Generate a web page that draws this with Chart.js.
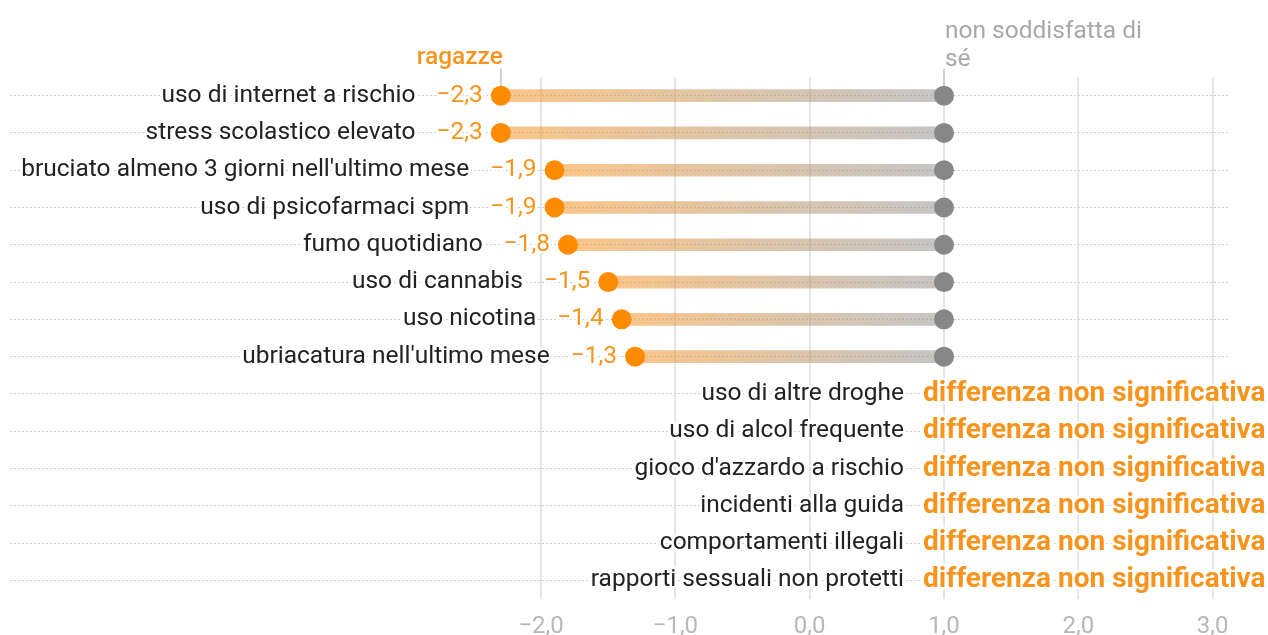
<!DOCTYPE html>
<html lang="it">
<head>
<meta charset="utf-8">
<title>Comportamenti a rischio: ragazze vs non soddisfatta di sé</title>
<script src="https://cdn.jsdelivr.net/npm/chart.js@4/dist/chart.umd.min.js"></script>
<style>
  html, body { margin: 0; padding: 0; background: #ffffff; overflow: hidden; }
  canvas { display: block; }
</style>
</head>
<body>
<canvas id="chart" width="1268" height="635"></canvas>
<script>
// Rows, top to bottom
const categories = [
  'uso di internet a rischio',
  'stress scolastico elevato',
  "bruciato almeno 3 giorni nell'ultimo mese",
  'uso di psicofarmaci spm',
  'fumo quotidiano',
  'uso di cannabis',
  'uso nicotina',
  "ubriacatura nell'ultimo mese",
  'uso di altre droghe',
  'uso di alcol frequente',
  "gioco d'azzardo a rischio",
  'incidenti alla guida',
  'comportamenti illegali',
  'rapporti sessuali non protetti'
];

// Girls' value per row (null = difference not significant)
const girlsValues = [-2.3, -2.3, -1.9, -1.9, -1.8, -1.5, -1.4, -1.3, null, null, null, null, null, null];

// Reference group value per row
const referenceValues = [1.0, 1.0, 1.0, 1.0, 1.0, 1.0, 1.0, 1.0, null, null, null, null, null, null];
const referenceLevel = 1.0;

// X axis tick values
const xTickValues = [-2, -1, 0, 1, 2, 3];

const seriesNames = ['ragazze', 'non soddisfatta di sé'];
const notSignificantText = 'differenza non significativa';

const ORANGE = '#ff8c00';
const ORANGE_TEXT = '#f7941d';
const GREY_POINT = '#878787';
const FONT = 'Roboto, "Noto Sans", sans-serif';
const LABEL_SIZE = 24.5;

function fmt(v) {
  return v.toFixed(1).replace('.', ',').replace('-', '\u2212');
}

// Connector bars fade from orange (girls) to grey (reference)
function connectorColor(ctx) {
  const chart = ctx.chart;
  const i = ctx.dataIndex;
  if (!chart.chartArea || girlsValues[i] == null) return 'rgba(0,0,0,0)';
  const xs = chart.scales.x;
  const x0 = xs.getPixelForValue(girlsValues[i]);
  const x1 = xs.getPixelForValue(referenceValues[i]);
  const g = chart.ctx.createLinearGradient(x0, 0, x1, 0);
  g.addColorStop(0, 'rgba(245,150,40,0.55)');
  g.addColorStop(1, 'rgba(140,140,140,0.5)');
  return g;
}

// Headers above the first row and their small ticks
const headerPlugin = {
  id: 'headers',
  beforeDatasetsDraw(chart) {
    const { ctx, scales: { x, y } } = chart;
    const first = girlsValues.findIndex(v => v != null);
    const y0 = y.getPixelForValue(first);
    ctx.save();
    ctx.strokeStyle = '#cfcfcf';
    ctx.lineWidth = 2;
    [x.getPixelForValue(girlsValues[first]), x.getPixelForValue(referenceValues[first])].forEach(px => {
      ctx.beginPath();
      ctx.moveTo(px, y0 - 27);
      ctx.lineTo(px, y0);
      ctx.stroke();
    });
    ctx.restore();
  },
  afterDraw(chart) {
    const { ctx, scales: { x, y } } = chart;
    const first = girlsValues.findIndex(v => v != null);
    const y0 = y.getPixelForValue(first);
    ctx.save();
    ctx.textBaseline = 'middle';
    ctx.font = '500 ' + LABEL_SIZE + 'px ' + FONT;
    ctx.fillStyle = ORANGE_TEXT;
    ctx.textAlign = 'right';
    ctx.fillText(seriesNames[0], x.getPixelForValue(girlsValues[first]) + 2, y0 - 38);

    // wrap the reference header
    ctx.font = LABEL_SIZE + 'px ' + FONT;
    ctx.fillStyle = '#a8a8a8';
    ctx.textAlign = 'left';
    const words = seriesNames[1].split(' ');
    const lines = [];
    let cur = '';
    words.forEach(w => {
      const t = cur ? cur + ' ' + w : w;
      if (ctx.measureText(t).width > 215 && cur) { lines.push(cur); cur = w; } else { cur = t; }
    });
    lines.push(cur);
    const hx = x.getPixelForValue(referenceValues[first]) + 1;
    lines.forEach((ln, k) => {
      ctx.fillText(ln, hx, y0 - 36 - (lines.length - 1 - k) * 28);
    });
    ctx.restore();
  }
};

// Row labels, value labels and "not significant" notes
const labelPlugin = {
  id: 'rowLabels',
  afterDatasetsDraw(chart) {
    const { ctx, scales: { x, y } } = chart;
    ctx.save();
    ctx.textBaseline = 'middle';
    ctx.lineJoin = 'round';
    const halo = (txt, px, py, color) => {
      ctx.strokeStyle = '#ffffff';
      ctx.lineWidth = 5;
      ctx.strokeText(txt, px, py);
      ctx.fillStyle = color;
      ctx.fillText(txt, px, py);
    };
    categories.forEach((cat, i) => {
      const py = y.getPixelForValue(i);
      if (girlsValues[i] != null) {
        const px = x.getPixelForValue(girlsValues[i]);
        const val = fmt(girlsValues[i]);
        ctx.font = LABEL_SIZE + 'px ' + FONT;
        ctx.textAlign = 'right';
        halo(val, px - 18, py, ORANGE_TEXT);
        const w = ctx.measureText(val).width;
        halo(cat, px - 18 - w - 21, py, '#222222');
      } else {
        const rx = x.getPixelForValue(referenceLevel);
        ctx.font = LABEL_SIZE + 'px ' + FONT;
        ctx.textAlign = 'right';
        halo(cat, rx - 40, py, '#222222');
        ctx.font = 'bold 28px ' + FONT;
        ctx.textAlign = 'left';
        halo(notSignificantText, rx - 21, py, ORANGE_TEXT);
      }
    });
    ctx.restore();
  }
};

new Chart(document.getElementById('chart'), {
  type: 'bar',
  data: {
    labels: categories,
    datasets: [
      {
        type: 'line',
        label: seriesNames[0],
        indexAxis: 'y',
        data: girlsValues,
        showLine: false,
        pointRadius: 10,
        pointHoverRadius: 10,
        pointBackgroundColor: ORANGE,
        pointBorderWidth: 0,
        order: 0
      },
      {
        type: 'line',
        label: seriesNames[1],
        indexAxis: 'y',
        data: referenceValues,
        showLine: false,
        pointRadius: 10,
        pointHoverRadius: 10,
        pointBackgroundColor: GREY_POINT,
        pointBorderWidth: 0,
        order: 1
      },
      {
        type: 'bar',
        label: 'divario',
        data: categories.map((_, i) => girlsValues[i] == null ? null : [girlsValues[i], referenceValues[i]]),
        backgroundColor: connectorColor,
        borderWidth: 0,
        borderSkipped: false,
        barThickness: 12,
        order: 2
      }
    ]
  },
  options: {
    indexAxis: 'y',
    responsive: false,
    animation: false,
    devicePixelRatio: 1,
    layout: { autoPadding: false, padding: { left: 10, right: 40, top: 77, bottom: 0 } },
    plugins: {
      legend: { display: false },
      tooltip: { enabled: false }
    },
    scales: {
      x: {
        type: 'linear',
        position: 'bottom',
        min: -5.955,
        max: 3.115,
        afterBuildTicks: axis => { axis.ticks = xTickValues.map(v => ({ value: v })); },
        afterFit: axis => { axis.height = 36; },
        border: { display: false },
        grid: { color: '#e6e6e6', lineWidth: 2, drawTicks: false },
        ticks: {
          padding: 16,
          color: '#b8b8b8',
          font: { family: FONT, size: 24, lineHeight: 1 },
          callback: v => fmt(v)
        }
      },
      y: {
        type: 'category',
        offset: true,
        border: { display: false, dash: [2, 2] },
        grid: { color: '#cfcfcf', lineWidth: 1, drawTicks: false, offset: false },
        ticks: { display: false }
      }
    }
  },
  plugins: [headerPlugin, labelPlugin]
});
</script>
</body>
</html>
